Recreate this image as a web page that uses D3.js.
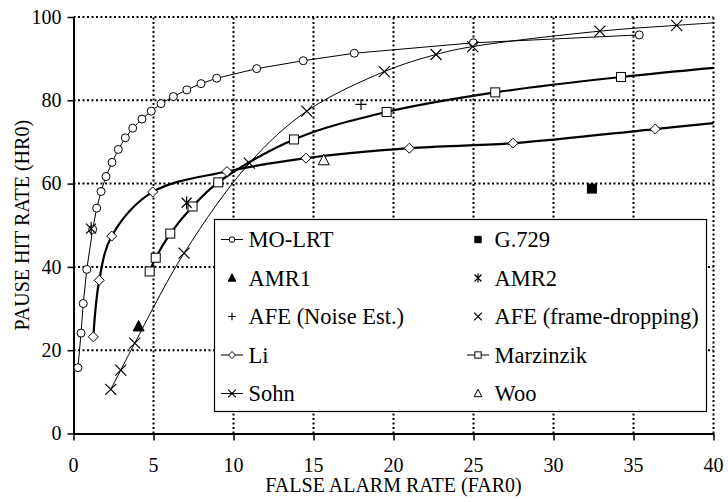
<!DOCTYPE html>
<html><head><meta charset="utf-8">
<script src="https://cdn.jsdelivr.net/npm/d3@7"></script>
</head><body style="margin:0">
<svg id="c" width="728" height="502"></svg>
<script>
// ---- data ----
const xTicks = [0,5,10,15,20,25,30,35,40];
const yTicks = [0,20,40,60,80,100];
const xTitle = "FALSE ALARM RATE (FAR0)";
const yTitle = "PAUSE HIT RATE (HR0)";

const moLrt = [[0.28,15.8],[0.47,24.1],[0.61,31.2],[0.83,39.4],[1.2,49.0],[1.45,54.1],[1.72,58.1],[2.03,61.7],[2.41,65.1],[2.8,68.2],[3.24,71.0],[3.7,73.3],[4.28,75.5],[4.86,77.4],[5.47,79.2],[6.24,80.9],[7.08,82.5],[7.97,84.0],[8.95,85.3],[11.45,87.6],[14.36,89.5],[17.55,91.3],[24.99,93.8],[35.36,95.7]];
const sohn = [[2.33,10.6],[2.95,15.2],[3.83,21.7],[6.91,43.3],[10.99,64.9],[14.58,77.4],[19.43,86.9],[22.66,91.0],[24.95,92.9],[32.9,96.6],[37.7,98.0]];
const sohnEnd = [40,98.6];
const li = [[1.24,23.2],[1.61,36.8],[2.39,47.4],[4.95,58.0],[9.59,62.9],[14.53,66.1],[20.99,68.5],[27.47,69.7],[36.36,73.1]];
const liEnd = [40,74.5];
const marz = [[4.76,38.9],[5.14,42.2],[6.05,48.0],[7.44,54.5],[9.05,60.3],[13.78,70.6],[19.57,77.2],[26.36,81.9],[34.22,85.6]];
const marzEnd = [40,87.8];
const g729 = [[32.4,58.8]];
const amr1 = [[4.07,25.7]];
const amr2 = [[1.1,49.2],[7.07,55.4]];
const afeNoise = [[17.97,79.0]];
const afeFrame = [];
const woo = [[15.64,65.6]];

const legendItems = [
  ["MO-LRT","circle",true],["G.729","fsquare",false],
  ["AMR1","ftri",false],["AMR2","star",false],
  ["AFE (Noise Est.)","plus",false],["AFE (frame-dropping)","cross",false],
  ["Li","diamond",true],["Marzinzik","square",true],
  ["Sohn","cross",true],["Woo","tri",false]
];

// ---- layout ----
const FONT = "'Times New Roman'";
const svg = d3.select("#c");
const x = d3.scaleLinear().domain([0,40]).range([73.5,713.5]);
const y = d3.scaleLinear().domain([0,100]).range([433.5,17]);

// grid
const grid = svg.append("g").attr("stroke","#000").attr("stroke-width",2).attr("stroke-dasharray","2,2.5");
grid.selectAll("line.v").data(xTicks.filter(d=>d>0)).join("line")
  .attr("x1",d=>x(d)).attr("x2",d=>x(d)).attr("y1",y(0)).attr("y2",y(100));
grid.selectAll("line.h").data(yTicks.filter(d=>d>0)).join("line")
  .attr("y1",d=>y(d)).attr("y2",d=>y(d)).attr("x1",x(0)).attr("x2",x(40));

// axes: domain + ticks via d3 axis, labels as own text
const xa = svg.append("g").attr("transform",`translate(0,${y(0)})`)
  .call(d3.axisBottom(x).tickValues(xTicks).tickSize(7).tickFormat("").tickSizeOuter(0));
const ya = svg.append("g").attr("transform",`translate(${x(0)},0)`)
  .call(d3.axisLeft(y).tickValues(yTicks).tickSize(6).tickFormat("").tickSizeOuter(0));
[xa,ya].forEach(a=>{
  a.select(".domain").attr("stroke","#000").attr("stroke-width",2);
  a.selectAll(".tick line").attr("stroke","#000").attr("stroke-width",1.5);
  a.selectAll("text").remove();
});
svg.selectAll("text.xt").data(xTicks).join("text").attr("class","xt")
  .attr("x",d=>x(d)).attr("y",y(0)+38).attr("text-anchor","middle")
  .style("font-family",FONT).style("font-size","20px").text(d=>d);
svg.selectAll("text.yt").data(yTicks).join("text").attr("class","yt")
  .attr("x",x(0)-12).attr("y",d=>y(d)).attr("dy","0.34em").attr("text-anchor","end")
  .style("font-family",FONT).style("font-size","20px").text(d=>d);

svg.append("text").attr("x",(x(0)+x(40))/2).attr("y",492).attr("text-anchor","middle")
  .style("font-family",FONT).style("font-size","20px").text(xTitle);
svg.append("text").attr("transform",`translate(29,${(y(0)+y(100))/2}) rotate(-90)`).attr("text-anchor","middle")
  .style("font-family",FONT).style("font-size","20px").text(yTitle);

// lines
const lineSmooth = d3.line().x(d=>x(d[0])).y(d=>y(d[1])).curve(d3.curveCatmullRom.alpha(0.5));
const lineStraight = d3.line().x(d=>x(d[0])).y(d=>y(d[1]));
svg.append("path").attr("d",lineStraight(moLrt)).attr("fill","none").attr("stroke","#000").attr("stroke-width",1);
svg.append("path").attr("d",lineSmooth(sohn.concat([sohnEnd]))).attr("fill","none").attr("stroke","#000").attr("stroke-width",1);
svg.append("path").attr("d",lineSmooth(li.concat([liEnd]))).attr("fill","none").attr("stroke","#000").attr("stroke-width",2.2);
svg.append("path").attr("d",lineSmooth(marz.concat([marzEnd]))).attr("fill","none").attr("stroke","#000").attr("stroke-width",2.2);

// markers
function marker(g, type, cx, cy, s){
  const k = s||1;
  if(type==="circle") g.append("circle").attr("cx",cx).attr("cy",cy).attr("r",4*k).attr("fill","#fff").attr("stroke","#000").attr("stroke-width",1);
  else if(type==="square"||type==="fsquare") g.append("rect").attr("x",cx-4.5*k).attr("y",cy-4.5*k).attr("width",9*k).attr("height",9*k)
      .attr("fill",type==="fsquare"?"#000":"#fff").attr("stroke","#000").attr("stroke-width",1);
  else if(type==="diamond") g.append("path").attr("d",`M${cx},${cy-5*k}L${cx+5*k},${cy}L${cx},${cy+5*k}L${cx-5*k},${cy}Z`).attr("fill","#fff").attr("stroke","#000").attr("stroke-width",1);
  else if(type==="tri"||type==="ftri") g.append("path").attr("d",`M${cx},${cy-6*k}L${cx+5.5*k},${cy+4.5*k}L${cx-5.5*k},${cy+4.5*k}Z`)
      .attr("fill",type==="ftri"?"#000":"#fff").attr("stroke","#000").attr("stroke-width",1);
  else if(type==="cross") g.append("path").attr("d",`M${cx-5.5*k},${cy-5.5*k}L${cx+5.5*k},${cy+5.5*k}M${cx-5.5*k},${cy+5.5*k}L${cx+5.5*k},${cy-5.5*k}`).attr("stroke","#000").attr("stroke-width",1.2);
  else if(type==="plus") g.append("path").attr("d",`M${cx-5.5*k},${cy}L${cx+5.5*k},${cy}M${cx},${cy-5.5*k}L${cx},${cy+5.5*k}`).attr("stroke","#000").attr("stroke-width",1.2);
  else if(type==="star") g.append("path").attr("d",`M${cx-5*k},${cy-5*k}L${cx+5*k},${cy+5*k}M${cx-5*k},${cy+5*k}L${cx+5*k},${cy-5*k}M${cx},${cy-6.5*k}L${cx},${cy+6.5*k}`).attr("stroke","#000").attr("stroke-width",1.2);
}
const mg = svg.append("g");
[[moLrt,"circle"],[sohn,"cross"],[li,"diamond"],[marz,"square"],[g729,"fsquare"],[amr1,"ftri"],[amr2,"star"],[afeNoise,"plus"],[afeFrame,"cross"],[woo,"tri"]]
  .forEach(([arr,t])=>arr.forEach(d=>marker(mg,t,x(d[0]),y(d[1]))));

// legend
const lg = svg.append("g");
lg.append("rect").attr("x",214.5).attr("y",219.5).attr("width",492).attr("height",192).attr("fill","#fff").attr("stroke","#000").attr("stroke-width",1.2);
legendItems.forEach((it,i)=>{
  const col = i%2, row = Math.floor(i/2);
  const sx = col===0?232:478, cy = 239.5 + row*38.5;
  if(it[2]) lg.append("line").attr("x1",sx-11).attr("x2",sx+11).attr("y1",cy).attr("y2",cy).attr("stroke","#000").attr("stroke-width",1);
  marker(lg,it[1],sx,cy,0.7);
  lg.append("text").attr("x",sx+16.5).attr("y",cy).attr("dy","0.35em").style("font-family",FONT).style("font-size","22.5px").text(it[0]);
});
</script>
</body></html>
